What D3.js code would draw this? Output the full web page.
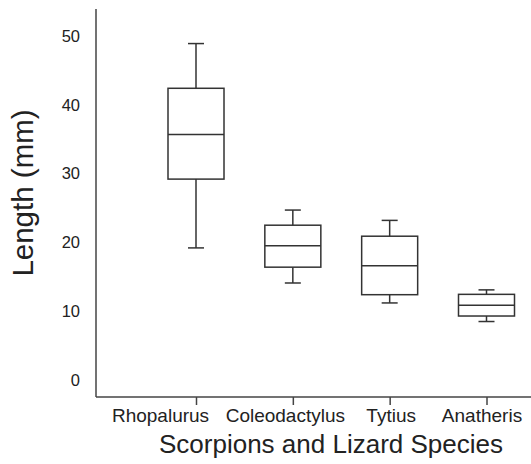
<!DOCTYPE html>
<html>
<head>
<meta charset="utf-8">
<script src="https://cdn.jsdelivr.net/npm/d3@7/dist/d3.min.js"></script>
<style>
  html, body { margin: 0; padding: 0; background: #fff; }
  svg { display: block; }
  text { font-family: "Liberation Sans", Arial, Helvetica, sans-serif; fill: #222; }
</style>
</head>
<body>
<svg id="chart" width="531" height="464"></svg>
<script>
// ---- data ----
const categories = ["Rhopalurus", "Coleodactylus", "Tytius", "Anatheris"];
const whiskerLow  = [19.2, 14.1, 11.2, 8.5];
const quartile1   = [29.2, 16.4, 12.4, 9.3];
const medians     = [35.7, 19.5, 16.6, 10.85];
const quartile3   = [42.4, 22.5, 20.9, 12.45];
const whiskerHigh = [48.9, 24.7, 23.2, 13.1];
const yTicks = [0, 10, 20, 30, 40, 50];
const yTitle = "Length (mm)";
const xTitle = "Scorpions and Lizard Species";

// ---- layout ----
const svg = d3.select("#chart");
const axisX = 96, axisTop = 9, axisBottom = 397, rightEdge = 531;
const boxWidth = 56, capWidth = 16;
const labelDx = [-36, -8, 1, -5];

const x = d3.scalePoint().domain(categories).range([196, 486.5]);
const y = d3.scaleLinear().domain([0, 50]).range([380, 36]);

const boxes = categories.map((c, i) => ({
  cat: c, lo: whiskerLow[i], q1: quartile1[i], med: medians[i], q3: quartile3[i], hi: whiskerHigh[i]
}));

const stroke = "#333";
const g = svg.append("g");

const bx = g.selectAll("g.box").data(boxes).enter().append("g").attr("class", "box");
bx.append("line")
  .attr("x1", d => x(d.cat)).attr("x2", d => x(d.cat))
  .attr("y1", d => y(d.hi)).attr("y2", d => y(d.q3))
  .attr("stroke", stroke).attr("stroke-width", 1.5);
bx.append("line")
  .attr("x1", d => x(d.cat)).attr("x2", d => x(d.cat))
  .attr("y1", d => y(d.q1)).attr("y2", d => y(d.lo))
  .attr("stroke", stroke).attr("stroke-width", 1.5);
bx.append("line")
  .attr("x1", d => x(d.cat) - capWidth / 2).attr("x2", d => x(d.cat) + capWidth / 2)
  .attr("y1", d => y(d.hi)).attr("y2", d => y(d.hi))
  .attr("stroke", stroke).attr("stroke-width", 1.5);
bx.append("line")
  .attr("x1", d => x(d.cat) - capWidth / 2).attr("x2", d => x(d.cat) + capWidth / 2)
  .attr("y1", d => y(d.lo)).attr("y2", d => y(d.lo))
  .attr("stroke", stroke).attr("stroke-width", 1.5);
bx.append("rect")
  .attr("x", d => x(d.cat) - boxWidth / 2).attr("width", boxWidth)
  .attr("y", d => y(d.q3)).attr("height", d => y(d.q1) - y(d.q3))
  .attr("fill", "none").attr("stroke", stroke).attr("stroke-width", 1.5);
bx.append("line")
  .attr("x1", d => x(d.cat) - boxWidth / 2).attr("x2", d => x(d.cat) + boxWidth / 2)
  .attr("y1", d => y(d.med)).attr("y2", d => y(d.med))
  .attr("stroke", stroke).attr("stroke-width", 1.5);

// y axis (labels only, no ticks)
const yAxis = d3.axisLeft(y).tickValues(yTicks).tickSize(0).tickPadding(16);
const ya = svg.append("g").attr("transform", `translate(${axisX},0)`).call(yAxis);
ya.select(".domain").remove();
ya.selectAll("text").style("font-size", "16.5px").attr("fill", "#222")
  .style("font-family", '"Liberation Sans", Arial, sans-serif');
svg.append("line").attr("x1", axisX).attr("x2", axisX).attr("y1", axisTop).attr("y2", axisBottom)
  .attr("stroke", "#444").attr("stroke-width", 1.5);

// x axis
const xAxis = d3.axisBottom(x).tickSize(8).tickPadding(4);
const xa = svg.append("g").attr("transform", `translate(0,${axisBottom})`).call(xAxis);
xa.select(".domain").remove();
xa.selectAll(".tick line").attr("stroke", "#444").attr("stroke-width", 1.5);
xa.selectAll("text").style("font-size", "19px").attr("fill", "#222")
  .style("font-family", '"Liberation Sans", Arial, sans-serif')
  .attr("dx", (d, i) => labelDx[i]);
svg.append("line").attr("x1", axisX).attr("x2", rightEdge).attr("y1", axisBottom).attr("y2", axisBottom)
  .attr("stroke", "#444").attr("stroke-width", 1.5);

// titles
svg.append("text").attr("x", 331).attr("y", 453).attr("text-anchor", "middle")
  .style("font-size", "26px").text(xTitle);
svg.append("text").attr("transform", "translate(33,193) rotate(-90)").attr("text-anchor", "middle")
  .style("font-size", "29.5px").text(yTitle);
</script>
</body>
</html>
